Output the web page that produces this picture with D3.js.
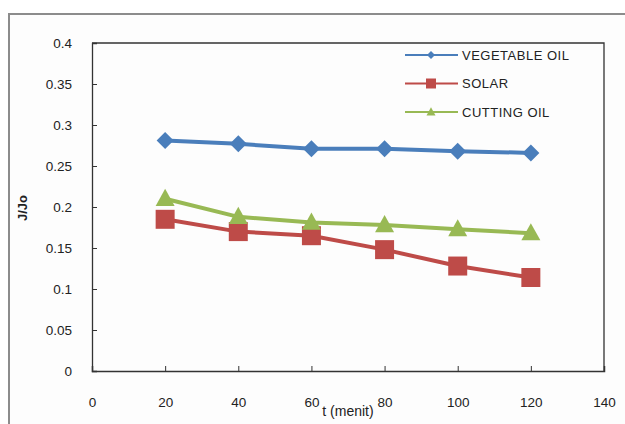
<!DOCTYPE html>
<html>
<head>
<meta charset="utf-8">
<script src="https://cdn.jsdelivr.net/npm/d3@7"></script>
<style>
  html, body { margin: 0; padding: 0; background: #ffffff; }
  svg { display: block; }
  text { font-family: "Liberation Sans", Arial, sans-serif; fill: #222; }
</style>
</head>
<body>
<svg id="chart" width="625" height="424"></svg>
<script>
// Flux ratio J/Jo over time for three fluids
const times = [20, 40, 60, 80, 100, 120];
const vegetableOil = [0.281, 0.277, 0.271, 0.271, 0.268, 0.266];
const solar = [0.185, 0.170, 0.165, 0.148, 0.128, 0.114];
const cuttingOil = [0.210, 0.188, 0.181, 0.178, 0.173, 0.168];
const seriesNames = ["VEGETABLE OIL", "SOLAR", "CUTTING OIL"];
const xTicks = [0, 20, 40, 60, 80, 100, 120, 140];
const yTicks = [0, 0.05, 0.1, 0.15, 0.2, 0.25, 0.3, 0.35, 0.4];

const series = [
  { name: seriesNames[0], values: vegetableOil, color: "#4a7ebb", shape: "diamond" },
  { name: seriesNames[1], values: solar, color: "#be4b48", shape: "square" },
  { name: seriesNames[2], values: cuttingOil, color: "#98b954", shape: "triangle" }
];

const svg = d3.select("#chart");

// outer chart frame
svg.append("rect")
  .attr("x", 9).attr("y", 14).attr("width", 640).attr("height", 430)
  .attr("fill", "#fdfdfd").attr("stroke", "#8c8c8c").attr("stroke-width", 2);

const plot = { left: 92, right: 604, top: 43, bottom: 371 };

const x = d3.scaleLinear().domain([0, 140]).range([plot.left, plot.right]);
const y = d3.scaleLinear().domain([0, 0.4]).range([plot.bottom, plot.top]);

// plot area border (top and right)
svg.append("path")
  .attr("d", `M${plot.left},${plot.top}H${plot.right}V${plot.bottom}`)
  .attr("fill", "none").attr("stroke", "#333").attr("stroke-width", 1.3);

// y axis with inward ticks
const yAxis = svg.append("g")
  .attr("transform", `translate(${plot.left},0)`)
  .call(d3.axisRight(y).tickValues(yTicks).tickSize(5).tickFormat(d3.format("")));
yAxis.select(".domain").attr("stroke", "#333").attr("stroke-width", 1.3);
yAxis.selectAll(".tick line").attr("stroke", "#333");
yAxis.selectAll(".tick text")
  .attr("x", -20).attr("text-anchor", "end")
  .style("font-size", "13.5px").attr("fill", "#222");

// x axis with inward ticks
const xAxis = svg.append("g")
  .attr("transform", `translate(0,${plot.bottom})`)
  .call(d3.axisTop(x).tickValues(xTicks).tickSize(5).tickFormat(d3.format("")));
xAxis.select(".domain").attr("stroke", "#333").attr("stroke-width", 1.5);
xAxis.selectAll(".tick line").attr("stroke", "#333");
xAxis.selectAll(".tick text")
  .attr("y", 31).attr("dy", "0.35em").attr("text-anchor", "middle")
  .style("font-size", "13.5px").attr("fill", "#222");

// axis titles
svg.append("text")
  .attr("transform", `translate(27,208) rotate(-90)`)
  .attr("text-anchor", "middle")
  .style("font-size", "13px").style("font-weight", "bold")
  .text("J/Jo");

svg.append("text")
  .attr("x", 348).attr("y", 416)
  .attr("text-anchor", "middle")
  .style("font-size", "14px")
  .text("t (menit)");

function markerPath(shape, size) {
  const h = size / 2;
  if (shape === "diamond") return `M0,${-h}L${h},0L0,${h}L${-h},0Z`;
  if (shape === "square") return `M${-h},${-h}H${h}V${h}H${-h}Z`;
  return `M0,${-h * 1.05}L${h},${h * 0.75}L${-h},${h * 0.75}Z`;
}
const bigSize = { diamond: 17, square: 19, triangle: 19 };
const smallSize = { diamond: 8, square: 10, triangle: 9 };

const line = d3.line().x((d, i) => x(times[i])).y(d => y(d));

series.forEach(s => {
  const g = svg.append("g");
  g.append("path")
    .attr("d", line(s.values))
    .attr("fill", "none").attr("stroke", s.color)
    .attr("stroke-width", 4).attr("stroke-linejoin", "round");
  g.selectAll("path.mark")
    .data(s.values)
    .join("path")
    .attr("class", "mark")
    .attr("transform", (d, i) => `translate(${x(times[i])},${y(d)})`)
    .attr("d", markerPath(s.shape, bigSize[s.shape]))
    .attr("fill", s.color);
});

// legend
const legend = svg.append("g");
series.forEach((s, i) => {
  const ly = 55 + i * 28.5;
  legend.append("line")
    .attr("x1", 405).attr("x2", 458).attr("y1", ly).attr("y2", ly)
    .attr("stroke", s.color).attr("stroke-width", 2);
  legend.append("path")
    .attr("transform", `translate(431,${ly})`)
    .attr("d", markerPath(s.shape, smallSize[s.shape]))
    .attr("fill", s.color);
  legend.append("text")
    .attr("x", 462).attr("y", ly).attr("dy", "0.36em")
    .style("font-size", "13px").style("letter-spacing", "0.5px")
    .text(s.name);
});
</script>
</body>
</html>
